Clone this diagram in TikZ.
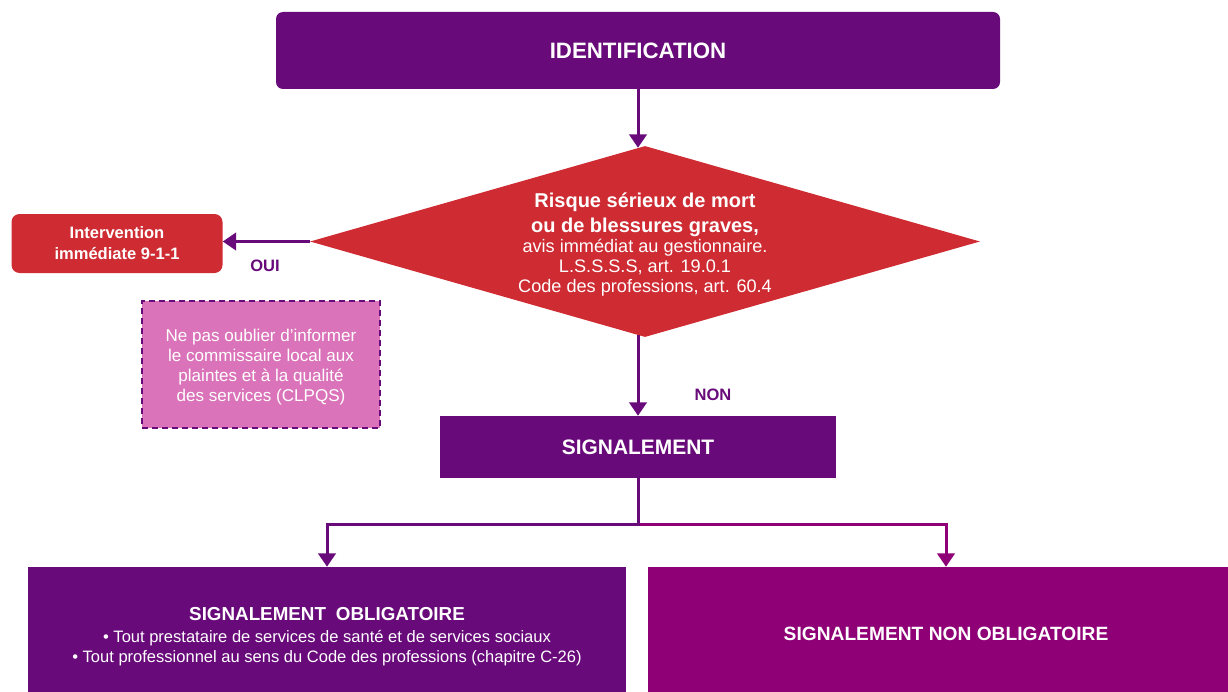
\documentclass[tikz,border=0pt]{standalone}
\usepackage{fontspec}
\setmainfont{Liberation Sans}
\usetikzlibrary{shapes.geometric,arrows.meta}
\definecolor{purpleD}{HTML}{680A79}
\definecolor{redD}{HTML}{CE2B32}
\definecolor{magD}{HTML}{8F0077}
\definecolor{pinkD}{HTML}{DA73B9}
\begin{document}
\begin{tikzpicture}[x=0.75pt,y=-0.75pt,
  conn/.style={draw=purpleD,line width=2.25pt,-{Triangle[width=13pt,length=10pt]}},
  box/.style={inner sep=0pt,align=center,text=white},
  lbl/.style={font=\fontsize{12.4}{15}\selectfont\bfseries,text=purpleD,inner sep=0pt}]
\clip (0,0) rectangle (1228,692);
\node[box,fill=purpleD,rounded corners=5.25pt,minimum width=543pt,minimum height=57.75pt,
  font=\fontsize{16.7}{20}\selectfont\bfseries] (ident) at (638,50.5) {IDENTIFICATION};
\node[diamond,aspect=3.5,fill=redD,inner sep=0pt,minimum width=502.5pt,minimum height=143.25pt,
  text=white,align=center,font=\fontsize{13.6}{15}\selectfont] (risk) at (645,241.5)
  {\rule{0pt}{15.5pt}{\fontsize{15}{18}\selectfont\bfseries Risque sérieux de mort}\\[3.5pt]
   {\fontsize{15}{18}\selectfont\bfseries ou de blessures graves,}\\
   avis immédiat au gestionnaire.\\
   L.S.S.S.S, art. 19.0.1\\
   Code des professions, art. 60.4};
\node[box,fill=redD,rounded corners=6pt,minimum width=158.25pt,minimum height=44.25pt,
  font=\fontsize{12.4}{15.75}\selectfont\bfseries] (interv) at (117,243.5)
  {Intervention\\immédiate 9-1-1};
\node[box,fill=pinkD,draw=purpleD,line width=1.9pt,dash pattern=on 4.5pt off 3pt,
  minimum width=178.5pt,minimum height=95.25pt,
  font=\fontsize{12.8}{15}\selectfont] (note) at (261,364.5)
  {\rule{0pt}{13pt}Ne pas oublier d’informer\\le commissaire local aux\\plaintes et à la qualité\\des services (CLPQS)};
\node[box,fill=purpleD,minimum width=297pt,minimum height=46.5pt,
  font=\fontsize{15.7}{19}\selectfont\bfseries] (signal) at (638,447) {SIGNALEMENT};
\node[box,fill=purpleD,minimum width=448.5pt,minimum height=99.75pt,
  font=\fontsize{12.4}{15}\selectfont] (oblig) at (327,633.5)
  {\rule{0pt}{14pt}{\fontsize{14.1}{17}\selectfont\bfseries SIGNALEMENT\hspace{0.25em} OBLIGATOIRE}\\[1.5pt]
   • Tout prestataire de services de santé et de services sociaux\\
   • Tout professionnel au sens du Code des professions (chapitre C-26)};
\node[box,fill=magD,minimum width=447pt,minimum height=99.75pt,
  font=\fontsize{14.4}{17}\selectfont\bfseries] (nonoblig) at (946,633.5)
  {SIGNALEMENT NON OBLIGATOIRE};
\node[lbl] (oui) at (265,266) {OUI};
\node[lbl] (non) at (713,395) {NON};
\coordinate (split) at (638,524);
\draw[conn] (ident.south) -- ([yshift=-1.5pt]ident.south |- risk.north);
\draw[conn] (risk.west) -- (risk.west -| interv.east);
\draw[conn] ([yshift=1.5pt]signal.north |- risk.south) -- (signal.north);
\draw[conn,draw=magD] (split) -| (nonoblig.north);
\draw[conn] (signal.south) -- (split) -| (oblig.north);
\end{tikzpicture}
\end{document}
